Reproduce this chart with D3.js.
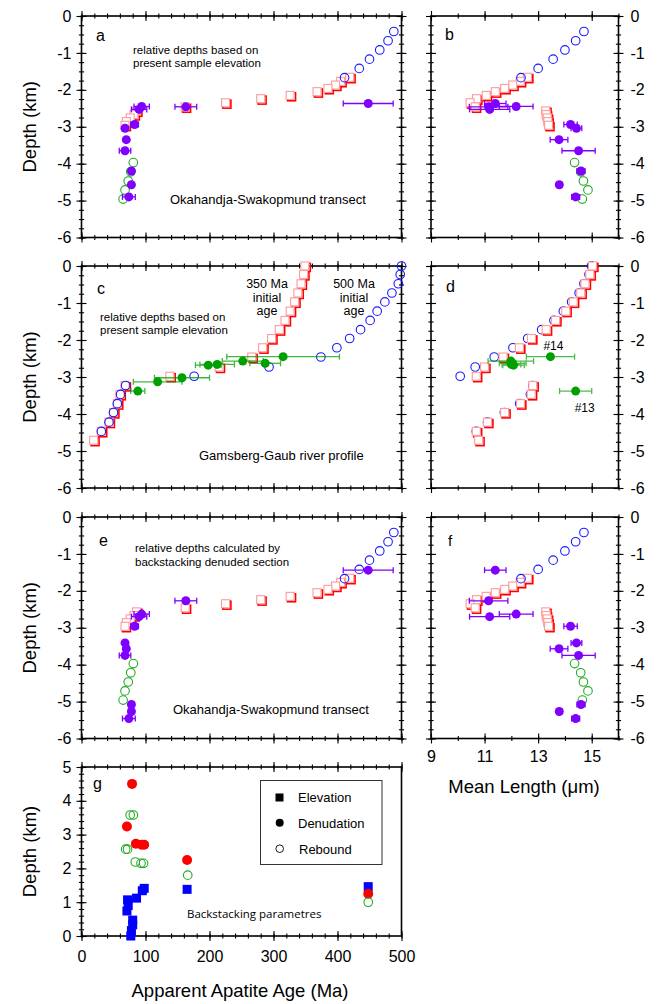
<!DOCTYPE html>
<html><head><meta charset="utf-8">
<script src="https://cdn.jsdelivr.net/npm/d3@7"></script>
<style>body{margin:0;background:#fff}svg{display:block}</style>
</head><body>
<script>
// ================= DATA =================
// Okahandja-Swakopmund transect — model tracks (panels a, b, e, f)
const osBlueAge    = [488,479,466,450,434,411];
const osBlueLen    = [14.71,14.40,14.00,13.56,13.00,12.36];
const osBlueDepth  = [-0.42,-0.67,-0.92,-1.17,-1.42,-1.67];
const osRedAge     = [419,405,397,385,368,326,280,225,162,86,82,76,70,68];
const osRedLen     = [12.60,12.33,12.05,11.75,11.40,11.06,10.70,10.46,10.65,13.28,13.30,13.34,13.36,13.39];
const osRedDepth   = [-1.66,-1.77,-1.87,-1.96,-2.05,-2.15,-2.24,-2.35,-2.46,-2.57,-2.67,-2.76,-2.86,-2.96];
const osGreenAge   = [81,77,73,68,65];
const osGreenLen   = [14.36,14.59,14.69,14.86,14.65];
const osGreenDepth = [-3.97,-4.22,-4.47,-4.71,-4.96];
// Okahandja-Swakopmund observed samples
const osAge        = [448,163,94,90,83,68,70,68,78,78,74];
const osAgeErr     = [39,17,12,12,6,3,3,9,3,3,10];
const osLen        = [11.40,11.15,12.18,11.19,14.21,14.43,13.78,14.51,14.60,13.79,14.40];
const osLenErr     = [0.40,0.72,0.63,0.75,0.25,0.20,0.33,0.62,0.15,0.10,0.15];
const osDepthElev  = [-2.37,-2.46,-2.45,-2.53,-2.94,-3.04,-3.35,-3.65,-4.20,-4.57,-4.90];
const osDepthBack  = [-1.44,-2.27,-2.63,-2.70,-2.96,-3.41,-3.57,-3.75,-5.08,-5.27,-5.46];

// Gamsberg-Gaub river profile (panels c, d)
const gg350Depth = [0,-0.23,-0.48,-0.73,-0.97,-1.22,-1.47,-1.72,-1.96,-2.21,-2.46,-2.73,-2.98,-3.23,-3.47,-3.72,-3.96,-4.22,-4.47,-4.71];
const gg350Age   = [349,347,343,338,333,326,318,309,297,283,266,215,138,68,60,56,50,43,31,19];
const gg350Len   = [15.03,14.93,14.75,14.59,14.31,14.03,13.65,13.30,12.75,12.30,11.69,11.00,10.69,12.80,12.74,12.34,11.75,11.11,10.69,10.78];
const gg500Depth = [0,-0.23,-0.48,-0.73,-0.97,-1.22,-1.47,-1.72,-1.96,-2.21,-2.46,-2.73,-2.98,-3.23,-3.47,-3.72,-3.96,-4.22,-4.47];
const gg500Age   = [500,498,495,485,474,462,451,436,419,399,374,293,176,69,61,56,50,43,31];
const gg500Len   = [14.99,14.90,14.71,14.53,14.25,13.94,13.59,13.13,12.61,12.06,11.36,10.65,10.09,12.80,12.71,12.31,11.74,11.11,10.69];
const ggAge      = [315,252,287,212,198,157,119,88];
const ggAgeErr   = [88,32,24,27,20,43,38,11];
const ggDepth    = [-2.45,-2.57,-2.63,-2.66,-2.68,-3.02,-3.13,-3.38];
const ggLen      = [13.46,11.98,12.05,12.00,12.08,null,null,14.40];
const ggLenErr   = [0.90,0.85,0.50,0.35,0.40,null,null,0.60];
const ggLenTags  = ["#14",null,null,null,null,null,null,"#13"];

// Backstacking parametres (panel g)
const bsElevAge  = [72,73,71,80,80,78,77,86,95,98,165,448];
const bsElev     = [1.07,0.90,0.74,0.47,0.33,0.16,0.00,1.12,1.34,1.41,1.38,1.46];
const bsDenudAge = [79,71,85,94,98,165,448];
const bsDenud    = [4.50,3.24,2.73,2.70,2.70,2.25,1.25];
const bsRebAge   = [76,81,69,72,84,93,97,166,448];
const bsReb      = [3.58,3.58,2.57,2.57,2.19,2.15,2.15,1.80,1.00];

// Tick labels
const ageTickLabels    = [0,100,200,300,400,500];
const lenTickLabels    = [9,11,13,15];
const depthTickLabels  = [0,-1,-2,-3,-4,-5,-6];
const gDepthTickLabels = [0,1,2,3,4,5];
const legendNames      = ["Elevation","Denudation","Rebound"];

// ================= DRAWING =================
const FONT = "'Liberation Sans', Arial, Helvetica, sans-serif";
const PURPLE = "#8000ff", BLUE = "#1a1aff", RED = "#ff0000", PINK = "#ff9a9a",
      GREEN = "#22aa22", GREENF = "#00a000";

const svg = d3.select("body").append("svg")
  .attr("width",658).attr("height",1004).style("font-family",FONT);

const AX = [81.5, 401.5], BX = [431, 618.5];
const ROWS = [[16,237.5],[266,488],[517,738.5]];
const xAge = d3.scaleLinear().domain([0,500]).range(AX);
const xLen = d3.scaleLinear().domain([9,16]).range(BX);
const yRow = ROWS.map(r => d3.scaleLinear().domain([-6,0]).range([r[1],r[0]]));
const yG = d3.scaleLinear().domain([0,5]).range([936,767]);

const ageMinor = d3.range(0,501,20), ageMajor = d3.range(0,501,100);
const lenMinor = d3.range(9,16.01,1), lenMajor = d3.range(9,16.01,2);
const depMinor = d3.range(-6,0.01,0.25), depMajor = d3.range(-6,0.01,1);
const gMinor = d3.range(0,5.01,0.2), gMajor = d3.range(0,5.01,1);

function crossTicks(g, scale, vals, half, orient, pos) {
  const pair = orient === 'x' ? [d3.axisTop, d3.axisBottom] : [d3.axisLeft, d3.axisRight];
  pair.forEach(fn => {
    const s = g.append("g")
      .attr("transform", orient === 'x' ? `translate(0,${pos})` : `translate(${pos},0)`)
      .call(fn(scale).tickValues(vals).tickSize(half).tickFormat(""));
    s.select(".domain").remove();
    s.selectAll(".tick line").attr("stroke","#000").attr("stroke-width",1.1);
  });
}

function frame(x, y, xMinor, xMajor, yMinor, yMajor, noRight) {
  const g = svg.append("g");
  const [x0,x1] = x.range(); const [yb,yt] = y.range();
  [yt,yb].forEach(p => { crossTicks(g,x,xMinor,2.6,'x',p); crossTicks(g,x,xMajor,5,'x',p); });
  const sides = noRight ? [x0] : [x0,x1];
  sides.forEach(p => { crossTicks(g,y,yMinor,2.6,'y',p); crossTicks(g,y,yMajor,5,'y',p); });
  g.append("rect").attr("x",x0).attr("y",yt).attr("width",x1-x0).attr("height",yb-yt)
    .attr("fill","none").attr("stroke","#000").attr("stroke-width",1.6);
}

function labels(fn, scale, vals, tx, ty, pad) {
  const s = svg.append("g").attr("transform",`translate(${tx},${ty})`)
    .call(fn(scale).tickValues(vals).tickSize(0).tickPadding(pad).tickFormat(d => String(d)));
  s.select(".domain").remove();
  s.selectAll("text").attr("font-family",FONT).attr("font-size",16).attr("fill","#000");
}

function text(str, x, y, size, anchor, fam) {
  svg.append("text").attr("x",x).attr("y",y).attr("font-size",size)
    .attr("text-anchor",anchor || "start").attr("font-family",fam || FONT).attr("fill","#000").text(str);
}

function redSquares(xs, ys, x, y) {
  const d = d3.zip(xs, ys);
  const g = svg.append("g");
  g.selectAll(null).data(d).join("rect")
    .attr("x", p => x(p[0]) - 4 + 1.4).attr("y", p => y(p[1]) - 4 + 1.4)
    .attr("width",8).attr("height",8).attr("fill","none").attr("stroke",RED).attr("stroke-width",1.6);
  g.selectAll(null).data(d).join("rect")
    .attr("x", p => x(p[0]) - 4).attr("y", p => y(p[1]) - 4)
    .attr("width",8).attr("height",8).attr("fill","#fff").attr("stroke",PINK).attr("stroke-width",1.1);
}

function openCircles(xs, ys, x, y, color) {
  svg.append("g").selectAll(null).data(d3.zip(xs, ys)).join("circle")
    .attr("cx", p => x(p[0])).attr("cy", p => y(p[1])).attr("r",4.3)
    .attr("fill","none").attr("stroke",color).attr("stroke-width",1.1);
}

function errPoints(xs, errs, ys, x, y, fill, barColor, barOpacity) {
  const d = d3.zip(xs, errs, ys).filter(p => p[0] != null);
  const g = svg.append("g");
  const bars = d.filter(p => p[1] > 0);
  const bg = g.append("g").attr("stroke",barColor).attr("stroke-width",1.3).attr("opacity",barOpacity);
  bg.selectAll(null).data(bars).join("line")
    .attr("x1", p => x(p[0]-p[1])).attr("x2", p => x(p[0]+p[1]))
    .attr("y1", p => y(p[2])).attr("y2", p => y(p[2]));
  [-1,1].forEach(sgn => {
    bg.selectAll(null).data(bars).join("line")
      .attr("x1", p => x(p[0]+sgn*p[1])).attr("x2", p => x(p[0]+sgn*p[1]))
      .attr("y1", p => y(p[2])-3).attr("y2", p => y(p[2])+3);
  });
  g.selectAll(null).data(d).join("circle")
    .attr("cx", p => x(p[0])).attr("cy", p => y(p[2])).attr("r",4.5).attr("fill",fill);
}

// ---------- frames ----------
yRow.forEach(y => {
  frame(xAge, y, ageMinor, ageMajor, depMinor, depMajor, false);
  frame(xLen, y, lenMinor, lenMajor, depMinor, depMajor, false);
  labels(d3.axisLeft, y, depthTickLabels, AX[0], 0, 10);
  labels(d3.axisRight, y, depthTickLabels, BX[1], 0, 12);
});
frame(xAge, yG, ageMinor, ageMajor, gMinor, gMajor, true);
labels(d3.axisLeft, yG, gDepthTickLabels, AX[0], 0, 10);
labels(d3.axisBottom, xAge, ageTickLabels, 0, 936, 15);
labels(d3.axisBottom, xLen, lenTickLabels, 0, 738.5, 12);

// ---------- panel a ----------
redSquares(osRedAge, osRedDepth, xAge, yRow[0]);
openCircles(osBlueAge, osBlueDepth, xAge, yRow[0], BLUE);
openCircles(osGreenAge, osGreenDepth, xAge, yRow[0], GREEN);
errPoints(osAge, osAgeErr, osDepthElev, xAge, yRow[0], PURPLE, PURPLE, 1);
// ---------- panel b ----------
redSquares(osRedLen, osRedDepth, xLen, yRow[0]);
openCircles(osBlueLen, osBlueDepth, xLen, yRow[0], BLUE);
openCircles(osGreenLen, osGreenDepth, xLen, yRow[0], GREEN);
errPoints(osLen, osLenErr, osDepthElev, xLen, yRow[0], PURPLE, PURPLE, 1);
// ---------- panel c ----------
redSquares(gg350Age, gg350Depth, xAge, yRow[1]);
openCircles(gg500Age, gg500Depth, xAge, yRow[1], BLUE);
errPoints(ggAge, ggAgeErr, ggDepth, xAge, yRow[1], GREENF, GREENF, 0.75);
// ---------- panel d ----------
openCircles(gg500Len, gg500Depth, xLen, yRow[1], BLUE);
redSquares(gg350Len, gg350Depth, xLen, yRow[1]);
errPoints(ggLen, ggLenErr, ggDepth, xLen, yRow[1], GREENF, GREENF, 0.7);
// ---------- panel e ----------
redSquares(osRedAge, osRedDepth, xAge, yRow[2]);
openCircles(osBlueAge, osBlueDepth, xAge, yRow[2], BLUE);
openCircles(osGreenAge, osGreenDepth, xAge, yRow[2], GREEN);
errPoints(osAge, osAgeErr, osDepthBack, xAge, yRow[2], PURPLE, PURPLE, 1);
// ---------- panel f ----------
redSquares(osRedLen, osRedDepth, xLen, yRow[2]);
openCircles(osBlueLen, osBlueDepth, xLen, yRow[2], BLUE);
openCircles(osGreenLen, osGreenDepth, xLen, yRow[2], GREEN);
errPoints(osLen, osLenErr, osDepthBack, xLen, yRow[2], PURPLE, PURPLE, 1);

// ---------- panel g ----------
svg.append("g").selectAll(null).data(d3.zip(bsElevAge, bsElev)).join("rect")
  .attr("x", p => xAge(p[0]) - 4.5).attr("y", p => yG(p[1]) - 4.5)
  .attr("width",9).attr("height",9).attr("fill","#0000ff");
svg.append("g").selectAll(null).data(d3.zip(bsDenudAge, bsDenud)).join("circle")
  .attr("cx", p => xAge(p[0])).attr("cy", p => yG(p[1])).attr("r",5).attr("fill",RED);
openCircles(bsRebAge, bsReb, xAge, yG, GREEN);

// legend
svg.append("rect").attr("x",260.5).attr("y",780.5).attr("width",121.5).attr("height",84)
  .attr("fill","none").attr("stroke","#333").attr("stroke-width",1);
svg.append("rect").attr("x",275.5).attr("y",793.5).attr("width",8).attr("height",8).attr("fill","#000");
svg.append("circle").attr("cx",279.7).attr("cy",822.7).attr("r",4).attr("fill","#000");
svg.append("circle").attr("cx",279.7).attr("cy",848.7).attr("r",3.8).attr("fill","none").attr("stroke","#000").attr("stroke-width",0.9);
text(legendNames[0], 298, 802, 13);
text(legendNames[1], 298, 827.5, 13);
text(legendNames[2], 299, 853.5, 13);
text("Backstacking parametres", 187, 918, 11.5, "start", "'Open Sans', sans-serif");

// ---------- panel letters & annotations ----------
text("a", 96, 41, 16); text("b", 445, 39.5, 16);
text("c", 97, 294, 16); text("d", 446, 291.5, 16);
text("e", 99, 546, 16); text("f", 448, 546, 15);
text("g", 93, 789, 16);

text("relative depths based on", 133, 54, 11.5);
text("present sample elevation", 133, 66.7, 11.5);
text("Okahandja-Swakopmund transect", 170, 204, 13);

text("relative depths based on", 100, 321, 11.5);
text("present sample elevation", 100, 334, 11.5);
[[267,"350 Ma"],[354,"500 Ma"]].forEach(([cx,lab]) => {
  text(lab, cx, 287.5, 12.5, "middle");
  text("initial", cx, 301.5, 12.5, "middle");
  text("age", cx, 315, 12.5, "middle");
});
text("Gamsberg-Gaub river profile", 199, 460, 13);

// sample tags in panel d
d3.zip(ggLen, ggDepth, ggLenTags).filter(p => p[2]).forEach(p => {
  const isTop = p[2] === "#14";
  text(p[2], xLen(p[0]) + (isTop ? 3 : 9), yRow[1](p[1]) + (isTop ? -7 : 21), 12, "middle");
});

text("relative depths calculated by", 135, 552.3, 11.5);
text("backstacking denuded section", 135, 566, 11.5);
text("Okahandja-Swakopmund transect", 173, 714, 13);

// ---------- axis titles ----------
[ROWS[0],ROWS[1],ROWS[2],[767,936]].forEach(r => {
  svg.append("text").attr("transform",`translate(36,${(r[0]+r[1])/2}) rotate(-90)`)
    .attr("text-anchor","middle").attr("font-size",18.5).attr("fill","#000").text("Depth (km)");
});
text("Apparent Apatite Age (Ma)", 240, 997, 18.5, "middle");
text("Mean Length (\u03bcm)", 524, 793, 18.5, "middle");
</script>
</body></html>
